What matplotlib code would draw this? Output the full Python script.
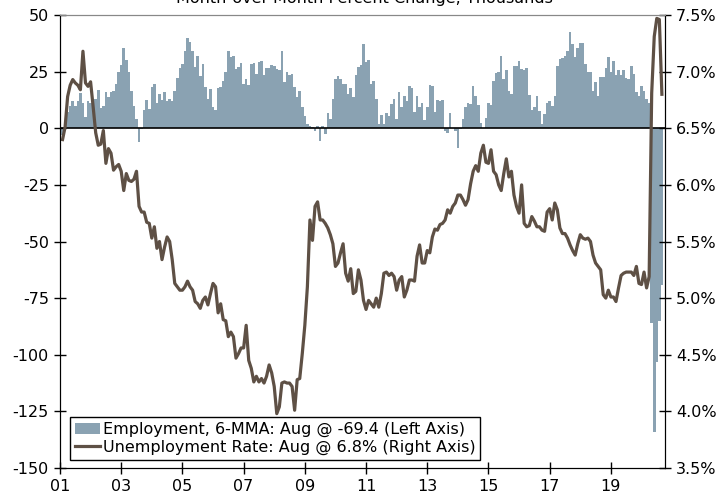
import numpy as np
import matplotlib
matplotlib.use("Agg")
import matplotlib.pyplot as plt
from matplotlib.patches import Patch
from matplotlib.lines import Line2D

# ----------------------------------------------------------
# data: monthly, Jan 2001 .. Aug 2020 (236 months)
# ----------------------------------------------------------
employment_6mma = [  # thousands, left axis
    -3, -1, 7, 10, 12, 10, 12, 15.5, 11, 5,
    12, 11, 10, 13, 17, 9, 10, 16, 14, 16,
    16.5, 19.5, 25, 28, 35.5, 30, 25, 16.5, 10, 4,
    -6, -0.5, 8, 12.5, 8.5, 18, 19.5, 11, 15, 12.5,
    16, 12, 13, 12, 16.5, 22, 26.5, 28.5, 34, 40,
    38, 34, 27, 32, 23, 28.5, 18, 12.9, 17.3, 9.2,
    8.1, 17.6, 18, 21, 25, 34, 31.4, 31.9, 26.2, 27,
    28.9, 19.6, 21.8, 19.1, 28.4, 28.9, 24, 29.2, 29.5, 23.3,
    26.5, 26.5, 28, 27.4, 26.2, 25.5, 34, 20.3, 25, 23.3,
    24, 18, 13.6, 16.6, 9.2, 5.2, 1.8, 1, 0.5, -1,
    1, -5.5, 1, -2.5, 6.7, 4.3, 12.9, 21.8, 23, 21.8,
    19.6, 19.6, 15.1, 17.6, 13.6, 23.3, 27, 28, 37.3, 29.2,
    30, 19.6, 21, 12.9, 1.8, 5.8, 1.8, 6.7, 5.2, 10.7,
    12.9, 4.3, 15.9, 9.2, 14.4, 12.1, 18.5, 17.6, 7.3, 14.1,
    9.6, 11.1, 3.7, 9.2, 19.1, 18.5, 7.3, 12.6, 12.1, 12.4,
    -1, -2, 6.7, 0, -1, -8.6, -0.5, 4.3, 9.2, 11.1,
    10.7, 18.5, 14.4, 10.2, 2.2, 0.3, 4.7, 11.1, 10.2, 21,
    24.4, 25, 31.9, 21.8, 25.5, 16.6, 15.1, 27.7, 27.4, 29.5,
    26.2, 25.9, 26.5, 14.7, 8.1, 9.6, 14.1, 7.7, 1.8, 6.2,
    11.1, 12.1, 9.9, 14.4, 27.7, 30.7, 31, 31.9, 34, 42.5,
    37.3, 31.4, 35.4, 37.8, 37.8, 28.4, 25, 25, 16.6, 20.6,
    14.4, 22.5, 22.5, 26.5, 31.4, 24.7, 29.9, 23.3, 25.9, 23.6,
    25.9, 22.1, 21.8, 27.7, 24, 15.9, 14.4, 18.8, 16.6, 12.9,
    11.1, -86, -134, -103, -85, -69.4,
]

unemployment_rate = [  # percent, right axis
    6.40, 6.51, 6.78, 6.88, 6.93, 6.90, 6.88, 6.84, 7.18,
    6.90, 6.87, 6.91, 6.69, 6.46, 6.35, 6.36, 6.48, 6.19, 6.32,
    6.28, 6.13, 6.16, 6.18, 6.12, 5.95, 6.10, 6.04, 6.03, 6.05,
    6.12, 5.81, 5.76, 5.76, 5.67, 5.66, 5.53, 5.63, 5.44, 5.50,
    5.34, 5.45, 5.54, 5.50, 5.34, 5.13, 5.10, 5.07, 5.07, 5.10,
    5.15, 5.10, 5.07, 4.97, 4.95, 4.91, 4.98, 5.01, 4.94, 5.04,
    5.13, 5.10, 4.87, 4.95, 4.81, 4.80, 4.66, 4.70, 4.66, 4.47,
    4.51, 4.56, 4.56, 4.76, 4.45, 4.38, 4.26, 4.31, 4.26, 4.29,
    4.25, 4.31, 4.41, 4.34, 4.22, 3.98, 4.04, 4.25, 4.26, 4.25,
    4.25, 4.22, 4.01, 4.28, 4.29, 4.51, 4.76, 5.10, 5.69, 5.51,
    5.81, 5.85, 5.69, 5.69, 5.66, 5.62, 5.56, 5.48, 5.28, 5.31,
    5.40, 5.48, 5.22, 5.15, 5.26, 5.04, 5.06, 5.25, 5.16, 4.98,
    4.90, 4.98, 4.95, 4.92, 5.00, 4.92, 5.04, 5.22, 5.23, 5.20,
    5.22, 5.19, 5.07, 5.16, 5.19, 5.01, 5.07, 5.16, 5.16, 5.15,
    5.37, 5.47, 5.31, 5.31, 5.42, 5.40, 5.54, 5.61, 5.60, 5.65,
    5.66, 5.69, 5.78, 5.75, 5.81, 5.84, 5.91, 5.91, 5.87, 5.82,
    5.87, 6.01, 6.12, 6.17, 6.12, 6.28, 6.35, 6.20, 6.19, 6.31,
    6.12, 6.09, 6.00, 5.95, 6.10, 6.23, 6.07, 6.12, 5.91, 5.81,
    5.75, 6.00, 5.66, 5.63, 5.64, 5.72, 5.68, 5.63, 5.63, 5.60,
    5.59, 5.76, 5.79, 5.69, 5.84, 5.78, 5.62, 5.57, 5.57, 5.53,
    5.47, 5.42, 5.38, 5.48, 5.56, 5.53, 5.52, 5.53, 5.50, 5.38,
    5.31, 5.28, 5.25, 5.03, 5.00, 5.07, 5.01, 5.01, 4.97, 5.09,
    5.20, 5.22, 5.23, 5.23, 5.23, 5.20, 5.28, 5.13, 5.12, 5.23,
    5.09, 5.19, 6.81, 7.31, 7.47, 7.46, 6.80,
]

year_labels = ["01", "03", "05", "07", "09", "11", "13", "15", "17", "19"]
left_ticks = [50, 25, 0, -25, -50, -75, -100, -125, -150]
right_ticks = [7.5, 7.0, 6.5, 6.0, 5.5, 5.0, 4.5, 4.0, 3.5]

bar_color = "#8aa2b2"
line_color = "#5e5045"

# ----------------------------------------------------------
# figure
# ----------------------------------------------------------
plt.rcParams["font.family"] = "DejaVu Sans"
fig = plt.figure(figsize=(7.28, 5.0), dpi=100)
ax = fig.add_axes([0.0824, 0.064, 0.831, 0.906])
ax2 = ax.twinx()

months = np.arange(len(employment_6mma)) + 1
ax.bar(months, employment_6mma, width=1.0, color=bar_color, linewidth=0)
ax.axhline(0, color="black", linewidth=1.2, zorder=3)

ax2.plot(months, unemployment_rate, color=line_color, linewidth=2.3,
         solid_joinstyle="round")

# --- axes ---
ax.set_xlim(0, 237.2)
ax.set_ylim(-150, 50)
ax2.set_ylim(3.5, 7.5)

ax.set_xticks(np.arange(0, 24 * len(year_labels), 24))
ax.set_xticklabels(year_labels, fontsize=11.5)
ax.set_yticks(left_ticks)
ax.set_yticklabels([str(t) for t in left_ticks], fontsize=11.5)
ax2.set_yticks(right_ticks)
ax2.set_yticklabels([f"{t:.1f}%" for t in right_ticks], fontsize=11.5)

ax.tick_params(axis="both", direction="inout", length=8, width=1, pad=4)
ax2.tick_params(axis="y", direction="inout", length=8, width=1, pad=4)

for a in (ax, ax2):
    a.spines["top"].set_color("#888888")
    a.spines["left"].set_color("black")
    a.spines["right"].set_color("black")
    a.spines["bottom"].set_color("black")

# --- title (cut off at top, as in the source) ---
fig.text(0.5, 1.003, "Month-over-Month Percent Change, Thousands",
         ha="center", va="center", fontsize=11.5)

# --- legend ---
handles = [Patch(facecolor=bar_color, edgecolor="none"),
           Line2D([0], [0], color=line_color, linewidth=2.3)]
labels = ["Employment, 6-MMA: Aug @ -69.4 (Left Axis)",
          "Unemployment Rate: Aug @ 6.8% (Right Axis)"]
leg = ax2.legend(handles, labels, loc="lower left",
                 bbox_to_anchor=(0.0165, 0.018), fontsize=11.5,
                 frameon=True, fancybox=False, edgecolor="black",
                 framealpha=1, borderaxespad=0, handlelength=1.6,
                 handletextpad=0.15, labelspacing=0.15, borderpad=0.3)
leg.get_frame().set_linewidth(1.0)

fig.savefig("out.png", dpi=100)
